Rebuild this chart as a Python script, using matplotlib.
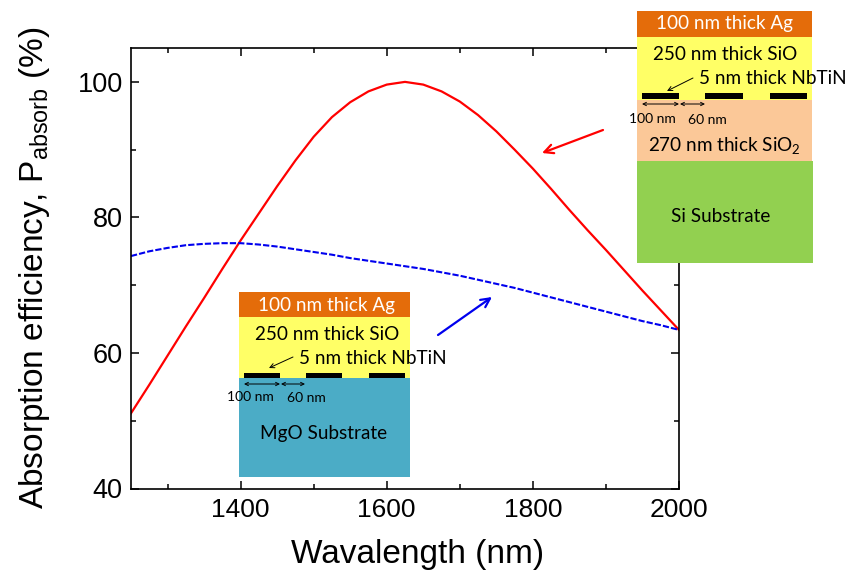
import matplotlib
matplotlib.use('Agg')
import matplotlib.pyplot as plt
from matplotlib.patches import Rectangle

wavelength = [1250, 1275, 1300, 1325, 1350, 1375, 1400, 1425, 1450, 1475, 1500, 1525, 1550, 1575, 1600, 1625,
              1650, 1675, 1700, 1725, 1750, 1775, 1800, 1825, 1850, 1875, 1900, 1925, 1950, 1975, 2000]
absorb_red = [51.1, 55.3, 59.6, 63.9, 68.1, 72.4, 76.6, 80.6, 84.6, 88.4, 91.9, 94.8, 97.0, 98.6, 99.6, 100,
              99.6, 98.6, 97.1, 95.1, 92.7, 90, 87.2, 84.2, 81.1, 78.1, 75.2, 72.2, 69.2, 66.3, 63.4]
absorb_blue = [74.3, 75.0, 75.5, 75.9, 76.1, 76.2, 76.2, 76.0, 75.7, 75.3, 74.9, 74.5, 74.0, 73.6, 73.2, 72.8,
               72.4, 71.9, 71.4, 70.8, 70.2, 69.6, 68.9, 68.2, 67.5, 66.8, 66.1, 65.4, 64.7, 64.1, 63.4]

W, H = 851, 580
plt.rcParams['font.family'] = ['Liberation Sans', 'DejaVu Sans']
fig = plt.figure(figsize=(W/100, H/100), dpi=100)
ax = fig.add_axes([131/W, 1-488.5/H, 548/W, 440.5/H])

ax.plot(wavelength, absorb_red, color='#ff0000', lw=1.6)
ax.plot(wavelength, absorb_blue, color='#0000ee', lw=1.5, ls=(0, (3, 1)))
ax.set_xlim(1250, 2000)
ax.set_ylim(40, 105)
ax.set_xticks([1400, 1600, 1800, 2000])
ax.set_xticks([1300, 1500, 1700, 1900], minor=True)
ax.set_yticks([40, 60, 80, 100])
ax.set_yticks([50, 70, 90], minor=True)
ax.tick_params(which='major', direction='in', length=6, width=1.1, top=True, right=True)
ax.tick_params(which='minor', direction='in', length=3.5, width=1.1, top=True, right=True)
ax.tick_params(axis='x', which='major', labelsize=19, pad=7)
ax.tick_params(axis='y', which='major', labelsize=19.5, pad=6)
for s in ax.spines.values():
    s.set_linewidth(1.2)
ax.set_xlabel('Wavalength (nm)', fontsize=24, va='center')
ax.xaxis.set_label_coords((418-131)/548, -(554-488.5)/440.5)
ax.set_ylabel(r'Absorption efficiency, P$_{\mathregular{absorb}}$ (%)', fontsize=24, va='center')
ax.yaxis.set_label_coords((35-131)/548, (488.5-268)/440.5)

# overlay in pixel coordinates for the device sketches
ov = fig.add_axes([0, 0, 1, 1])
ov.set_xlim(0, W)
ov.set_ylim(H, 0)
ov.axis('off')
ov.patch.set_alpha(0)


def box(x0, y0, x1, y1, c):
    ov.add_patch(Rectangle((x0, y0), x1-x0, y1-y0, fc=c, ec='none'))


def lab(x, y, s, size=13.6, c='black', ha='center'):
    ov.text(x, y, s, fontsize=size, color=c, ha=ha, va='center', family=['Lato', 'DejaVu Sans'])


def darrow(x0, x1, y):
    ov.annotate('', xy=(x1, y), xytext=(x0, y),
                arrowprops=dict(arrowstyle='<->', lw=0.7, color='black', mutation_scale=6, shrinkA=0, shrinkB=0))


def pointer(x0, y0, x1, y1, c='black', lw=0.7, ms=8):
    ov.annotate('', xy=(x1, y1), xytext=(x0, y0),
                arrowprops=dict(arrowstyle='->', lw=lw, color=c, mutation_scale=ms, shrinkA=0, shrinkB=0))


# right device
box(637, 11, 812, 37, '#e46c0a')
box(637, 37, 812, 100, '#ffff66')
box(637, 100, 812, 161, '#fbc898')
box(637, 161, 813, 263, '#92d050')
for x0, x1 in [(642, 679), (705, 743), (770, 807)]:
    box(x0, 93, x1, 99, 'black')
lab(724, 23.5, '100 nm thick Ag', c='white')
lab(725, 54, '250 nm thick SiO')
lab(699, 78, '5 nm thick NbTiN', ha='left')
lab(724, 146, r'270 nm thick SiO$_{\mathregular{2}}$')
lab(721, 216, 'Si Substrate')
lab(652, 119, '100 nm', size=10)
lab(707, 120, '60 nm', size=10)
darrow(642, 679, 104)
darrow(680, 705, 104)
pointer(693, 78, 667, 91)

# left device
box(239, 292, 410, 317, '#e46c0a')
box(239, 317, 410, 378, '#ffff66')
box(239, 378, 410, 477, '#4bacc6')
for x0, x1 in [(244, 280), (306, 342), (369, 405)]:
    box(x0, 373, x1, 378, 'black')
lab(327, 305, '100 nm thick Ag', c='white')
lab(327, 334, '250 nm thick SiO')
lab(299, 358, '5 nm thick NbTiN', ha='left')
lab(324, 434, 'MgO Substrate')
lab(250, 397, '100 nm', size=10)
lab(306, 398, '60 nm', size=10)
darrow(244, 280, 384)
darrow(281, 305, 384)
pointer(293, 357, 269, 368)

# pointer arrows
pointer(603, 130, 542, 153, c='#ff0000', lw=1.6, ms=16)
pointer(438, 335, 492, 297, c='#0000ee', lw=1.6, ms=16)

fig.savefig('out.png', dpi=100)
